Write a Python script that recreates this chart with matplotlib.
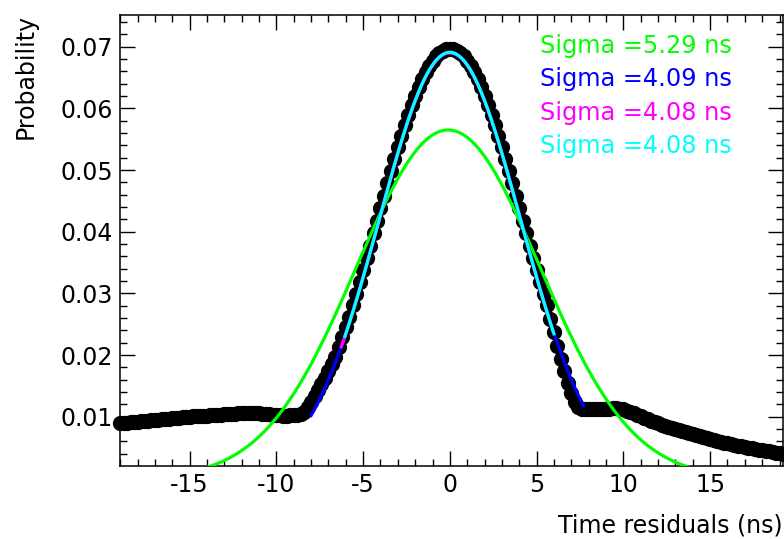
import numpy as np
import matplotlib
matplotlib.use("Agg")
import matplotlib.pyplot as plt
from matplotlib.ticker import MultipleLocator, FixedLocator

plt.rcParams["font.family"] = ["DejaVu Sans"]
plt.rcParams["axes.unicode_minus"] = False

# Time-residual distribution, 0.2 ns bins starting at -19.0 ns
bin_start = -19.0
bin_width = 0.2
probability = [
    0.00890, 0.00895, 0.00901, 0.00906, 0.00912, 0.00918, 0.00923, 0.00929, 0.00935, 0.00941,
    0.00946, 0.00952, 0.00957, 0.00962, 0.00968, 0.00973, 0.00978, 0.00984, 0.00989, 0.00995,
    0.00999, 0.01003, 0.01007, 0.01011, 0.01015, 0.01018, 0.01021, 0.01025, 0.01028, 0.01032,
    0.01036, 0.01040, 0.01044, 0.01048, 0.01052, 0.01056, 0.01060, 0.01063, 0.01063, 0.01060,
    0.01056, 0.01051, 0.01046, 0.01040, 0.01034, 0.01028, 0.01023, 0.01019, 0.01017, 0.01020,
    0.01026, 0.01035, 0.01048, 0.01080, 0.01150, 0.01240, 0.01330, 0.01430, 0.01530, 0.01630,
    0.01740, 0.01850, 0.01975, 0.02130, 0.02290, 0.02455, 0.02624, 0.02804, 0.02989, 0.03179,
    0.03372, 0.03570, 0.03770, 0.03973, 0.04176, 0.04380, 0.04583, 0.04784, 0.04983, 0.05177,
    0.05367, 0.05551, 0.05728, 0.05897, 0.06056, 0.06206, 0.06344, 0.06471, 0.06584, 0.06685,
    0.06770, 0.06842, 0.06898, 0.06938, 0.06962, 0.06970, 0.06962, 0.06938, 0.06898, 0.06842,
    0.06770, 0.06685, 0.06584, 0.06471, 0.06344, 0.06206, 0.06056, 0.05897, 0.05728, 0.05551,
    0.05367, 0.05177, 0.04983, 0.04784, 0.04583, 0.04380, 0.04176, 0.03973, 0.03770, 0.03570,
    0.03372, 0.03179, 0.02989, 0.02804, 0.02590, 0.02370, 0.02150, 0.01940, 0.01740, 0.01550,
    0.01380, 0.01240, 0.01160, 0.01130, 0.01125, 0.01120, 0.01118, 0.01118, 0.01120, 0.01122,
    0.01125, 0.01130, 0.01135, 0.01136, 0.01130, 0.01118, 0.01100, 0.01080, 0.01055, 0.01030,
    0.01003, 0.00978, 0.00955, 0.00932, 0.00911, 0.00891, 0.00872, 0.00853, 0.00835, 0.00817,
    0.00800, 0.00783, 0.00766, 0.00750, 0.00734, 0.00717, 0.00700, 0.00684, 0.00668, 0.00652,
    0.00637, 0.00622, 0.00608, 0.00594, 0.00581, 0.00568, 0.00556, 0.00544, 0.00532, 0.00521,
    0.00510, 0.00499, 0.00488, 0.00477, 0.00467, 0.00457, 0.00447, 0.00437, 0.00427, 0.00417,
    0.00407, 0.00398,
]
time_ns = np.round(bin_start + bin_width * np.arange(len(probability)), 2)

# Gaussian fits: amplitude, mean (ns), sigma (ns), fit range (ns)
fit_colors = ["#00ff00", "#0000ff", "#ff00ff", "#00ffff"]
fit_amplitude = [0.0565, 0.0691, 0.0690, 0.0691]
fit_mean = [-0.1, 0.0, 0.0, 0.0]
fit_sigma = [5.29, 4.09, 4.08, 4.08]
fit_xmin = [-16.0, -8.0, -6.25, -6.05]
fit_xmax = [16.0, 7.7, 5.95, 6.0]

x_ticks = [-15, -10, -5, 0, 5, 10, 15]
y_ticks = [0.01, 0.02, 0.03, 0.04, 0.05, 0.06, 0.07]

fig = plt.figure(figsize=(7.84, 5.39), dpi=100)
ax = fig.add_axes([119.7 / 784, (539 - 465.7) / 539,
                   (783.5 - 119.7) / 784, (465.7 - 15.3) / 539])

ax.plot(time_ns, probability, "o", color="black", markersize=11,
        markeredgewidth=0, clip_on=False, zorder=2)

for amp, mu, sig, lo, hi, col in zip(fit_amplitude, fit_mean, fit_sigma,
                                     fit_xmin, fit_xmax, fit_colors):
    xs = np.linspace(lo, hi, 400)
    ax.plot(xs, amp * np.exp(-0.5 * ((xs - mu) / sig) ** 2),
            color=col, linewidth=2.3, zorder=3)

ax.set_xlim(-19.03, 19.23)
ax.set_ylim(0.00205, 0.0751)

ax.xaxis.set_major_locator(FixedLocator(x_ticks))
ax.set_xticklabels([str(t) for t in x_ticks])
ax.xaxis.set_minor_locator(MultipleLocator(1))
ax.yaxis.set_major_locator(FixedLocator(y_ticks))
ax.set_yticklabels([f"{t:.2f}" for t in y_ticks])
ax.yaxis.set_minor_locator(MultipleLocator(0.002))

ax.tick_params(which="both", direction="in", top=True, right=True,
               width=1.0, color="black", labelsize=17)
ax.tick_params(which="major", length=10.5)
ax.tick_params(which="minor", length=5)
ax.tick_params(axis="x", which="major", pad=5)
ax.tick_params(axis="y", which="major", pad=5)
for s in ax.spines.values():
    s.set_linewidth(1.1)

fig.text(782.5 / 784, 1 - 525 / 539, "Time residuals (ns)", ha="right",
         va="center", fontsize=17)
fig.text(26 / 784, 1 - 14 / 539, "Probability", ha="center", va="top",
         rotation=90, fontsize=17)

sigma_labels = [f"Sigma ={s:.2f} ns" for s in fit_sigma]
for i, (lab, col) in enumerate(zip(sigma_labels, fit_colors)):
    ax.text(540.5 / 784, 1 - (46 + 33.4 * i) / 539, lab, color=col,
            fontsize=17.3, ha="left", va="center", transform=fig.transFigure)

fig.savefig("out.png", dpi=100)
